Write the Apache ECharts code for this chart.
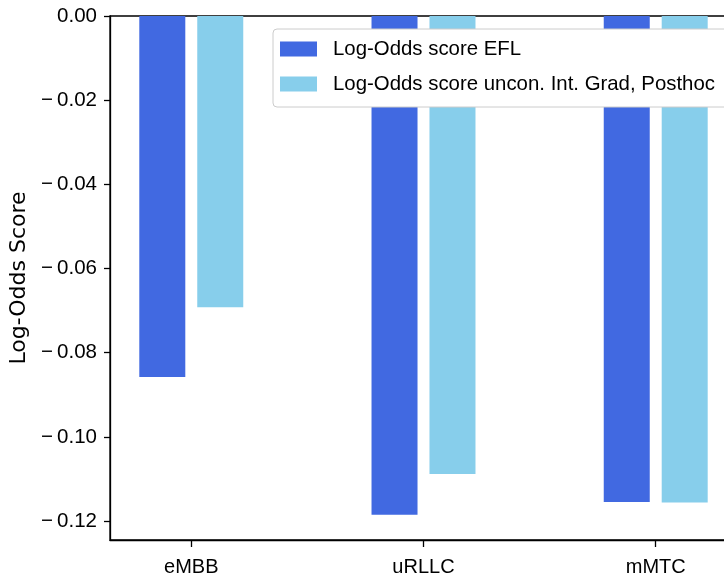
<!DOCTYPE html>
<html>
<head>
<meta charset="utf-8">
<script src="https://cdn.jsdelivr.net/npm/echarts@6/dist/echarts.min.js"></script>
<style>html,body{margin:0;padding:0;background:#fff}#c{width:724px;height:578px}</style>
</head>
<body>
<div id="c"></div>
<script>
const categories = ['eMBB', 'uRLLC', 'mMTC'];
const seriesNames = ['Log-Odds score EFL', 'Log-Odds score uncon. Int. Grad, Posthoc'];
const efl = [-0.0858, -0.1185, -0.1155];
const intGrad = [-0.0692, -0.1088, -0.1156];
const yTicks = [0, -0.02, -0.04, -0.06, -0.08, -0.10, -0.12];
const xTicks = [0, 1, 2];

const font = 'Liberation Sans, Arial, sans-serif';
const chart = echarts.init(document.getElementById('c'));
const fmtY = v => (v < 0 ? '\u2212\u2009' : '') + Math.abs(v).toFixed(2);

chart.setOption({
  animation: false,
  backgroundColor: '#fff',
  grid: {
    left: 110, top: 16, right: -13, bottom: 38,
    outerBoundsMode: 'none',
    containLabel: false,
    show: true, borderColor: '#000', borderWidth: 1.3, backgroundColor: 'transparent'
  },
  legend: {
    orient: 'vertical',
    left: 273, top: 29,
    padding: [10, 20, 13, 7],
    itemGap: 15,
    itemWidth: 37, itemHeight: 15,
    borderColor: '#cccccc', borderWidth: 1, borderRadius: 4,
    backgroundColor: '#ffffff',
    icon: 'rect',
    textStyle: { fontFamily: font, fontSize: 20.4, color: '#000', padding: [0, 0, 0, 11] },
    data: seriesNames
  },
  xAxis: {
    type: 'value',
    min: -0.35, max: 2.35,
    axisLine: { show: true, onZero: false, lineStyle: { color: '#000', width: 1.3 } },
    axisTick: { show: true, length: 7, lineStyle: { color: '#000', width: 1.3 }, customValues: xTicks },
    axisLabel: {
      fontFamily: font, fontSize: 20, color: '#000', margin: 17,
      customValues: xTicks,
      formatter: v => categories[Math.round(v)]
    },
    splitLine: { show: false }
  },
  yAxis: {
    type: 'value',
    min: -0.1245, max: 0,
    name: 'Log-Odds Score',
    nameLocation: 'middle',
    nameGap: 73,
    nameTextStyle: { fontFamily: 'DejaVu Sans, sans-serif', fontSize: 22, color: '#000' },
    axisLine: { show: true, onZero: false, lineStyle: { color: '#000', width: 1.3 } },
    axisTick: { show: true, length: 6, lineStyle: { color: '#000', width: 1.3 }, customValues: yTicks },
    axisLabel: {
      fontFamily: font, fontSize: 20.5, color: '#000', margin: 13,
      customValues: yTicks,
      formatter: fmtY
    },
    splitLine: { show: false }
  },
  series: [
    {
      name: seriesNames[0], type: 'bar',
      data: efl.map((v, i) => [i, v]),
      barWidth: 46, barGap: '26%',
      itemStyle: { color: '#4169E1' }
    },
    {
      name: seriesNames[1], type: 'bar',
      data: intGrad.map((v, i) => [i, v]),
      barWidth: 46, barGap: '26%',
      itemStyle: { color: '#87CEEB' }
    }
  ]
});
</script>
</body>
</html>
